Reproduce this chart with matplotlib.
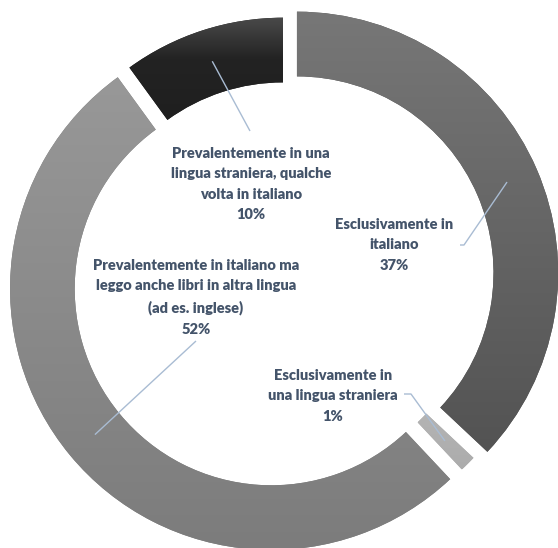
import numpy as np
import matplotlib
matplotlib.use("Agg")
import matplotlib.pyplot as plt
from matplotlib.colors import LinearSegmentedColormap

# Data
categories = [
    "Esclusivamente in\nitaliano",
    "Esclusivamente in\nuna lingua straniera",
    "Prevalentemente in italiano ma\nleggo anche libri in altra lingua\n(ad es. inglese)",
    "Prevalentemente in una\nlingua straniera, qualche\nvolta in italiano",
]
values = [37, 1, 52, 10]

# Styling
explode = [0.058, 0.0, 0.058, 0.0]
grad_stops = [
    [(0.0, "#535353"), (1.0, "#777777")],
    [(0.0, "#acacac"), (1.0, "#b4b4b4")],
    [(0.0, "#7c7c7c"), (1.0, "#989898")],
    [(0.0, "#1f1f1f"), (0.6, "#232323"), (1.0, "#4a4a4a")],
]
text_color = "#44546a"
leader_color = "#a9bcd3"

W, H, DPI = 558, 548, 100
PX_PER_UNIT = 261.3          # outer radius in pixels
CX, CY = 283.0, 279.0        # pie centre in pixels (from top-left)
RING = 0.2476                # ring thickness relative to radius


def px(x, y):
    """Pixel position (from top-left) -> data coordinates."""
    return (x - CX) / PX_PER_UNIT, (CY - y) / PX_PER_UNIT


fig = plt.figure(figsize=(W / DPI, H / DPI), dpi=DPI)
ax = fig.add_axes([0, 0, 1, 1])
ax.set_aspect("equal")
ax.axis("off")

wedges, _ = ax.pie(values, startangle=90, counterclock=False, radius=1.0,
                   explode=explode,
                   wedgeprops=dict(width=RING, linewidth=0))

# vertical gradient fill for every segment
for w, stops in zip(wedges, grad_stops):
    w.set_facecolor(stops[0][1])
    bb = w.get_path().get_extents(w.get_patch_transform())
    cmap = LinearSegmentedColormap.from_list("g", stops)
    grad = np.linspace(0, 1, 256).reshape(-1, 1)
    im = ax.imshow(grad, cmap=cmap, origin="lower", aspect="auto",
                   extent=[bb.x0, bb.x1, bb.y0, bb.y1], zorder=w.get_zorder() + 0.5,
                   interpolation="bilinear")
    im.set_clip_path(w)

ax.set_xlim(-CX / PX_PER_UNIT, (W - CX) / PX_PER_UNIT)
ax.set_ylim(-(H - CY) / PX_PER_UNIT, CY / PX_PER_UNIT)

# label layout: (centre x, top y) in pixels, and leader end points
label_pos = [(394, 218), (333, 369), (196, 259), (251, 147)]
leader_end = [[(464, 245), (460, 245)],
              [(411, 394), (404, 394)],
              [(196, 341)],
              [(250, 131)]]

total = sum(values)
start = 90.0
mid_r = 1.0 - RING / 2
for i, (cat, v) in enumerate(zip(categories, values)):
    span = 360.0 * v / total
    mid = np.deg2rad(start - span / 2)
    start -= span
    ox, oy = explode[i] * np.cos(mid), explode[i] * np.sin(mid)
    p0 = (ox + mid_r * np.cos(mid), oy + mid_r * np.sin(mid))
    pts = [p0] + [px(*p) for p in leader_end[i]]
    xs, ys = zip(*pts)
    ax.plot(xs, ys, color=leader_color, lw=1.0, zorder=5, solid_capstyle="butt")

    lx, ly = px(*label_pos[i])
    ax.text(lx, ly, f"{cat}\n{v}%", ha="center", va="top",
            fontsize=10.5, fontweight="heavy", family=["Lato", "DejaVu Sans"],
            color=text_color, linespacing=1.68, zorder=6)

fig.savefig("out.png", dpi=DPI)
